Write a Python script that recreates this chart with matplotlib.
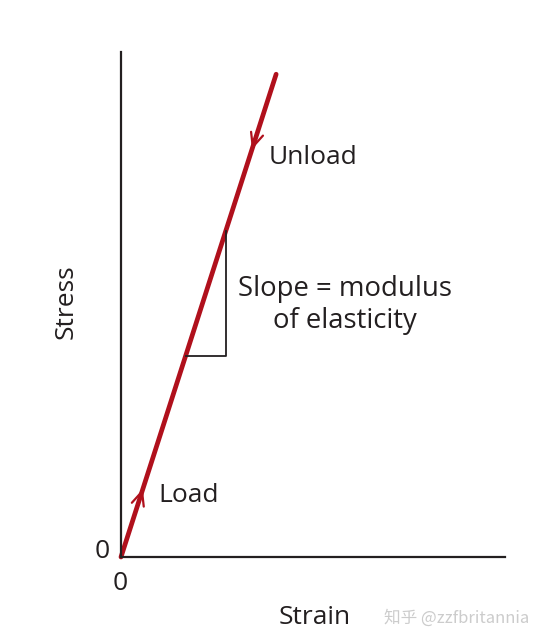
import matplotlib
matplotlib.use('Agg')
import matplotlib.pyplot as plt

# Line data (normalised strain / stress)
strain = [0.0, 0.404]
stress = [0.0, 0.956]
slope = stress[1] / strain[1]

# Slope triangle corners (strain)
tri_x = [0.168, 0.273]

# Arrow positions along the line (strain)
load_arrow_x = 0.057
unload_arrow_x = 0.341

RED = '#b0101c'
TXT = '#231f20'
FONT = ['Open Sans', 'DejaVu Sans']

W, H = 542, 643
fig = plt.figure(figsize=(W / 100, H / 100), dpi=100)
ax = fig.add_axes([121 / W, (H - 557) / H, (505 - 121) / W, (557 - 52) / H])
ax.set_xlim(0, 1)
ax.set_ylim(0, 1)
ax.set_xticks([])
ax.set_yticks([])
for s in ['top', 'right']:
    ax.spines[s].set_visible(False)
for s in ['left', 'bottom']:
    ax.spines[s].set_linewidth(1.6)
    ax.spines[s].set_color('#231f20')

ax.plot(strain, stress, color=RED, lw=3.4, solid_capstyle='round', clip_on=False)

# slope triangle
ax.plot([tri_x[0], tri_x[1], tri_x[1]],
        [tri_x[0] * slope, tri_x[0] * slope, tri_x[1] * slope],
        color=TXT, lw=1.3)

# chevron arrows on the line
def chevron(x0, direction):
    y0 = x0 * slope
    dx = 0.03 * direction
    ax.annotate('', xy=(x0, y0), xytext=(x0 - dx, y0 - dx * slope),
                arrowprops=dict(arrowstyle='->,head_length=1.0,head_width=0.45',
                                color=RED, lw=1.6, shrinkA=0, shrinkB=0))

chevron(load_arrow_x, 1)
chevron(unload_arrow_x, -1)

fs = 19
def px(x, y):
    return (x - 121) / 384, (557 - y) / 505

ax.text(*px(158, 495), 'Load', fontsize=fs, color=TXT,
        va='center', ha='left', family=FONT)
ax.text(*px(269, 158), 'Unload', fontsize=fs, color=TXT,
        va='center', ha='left', family=FONT)
ax.text(*px(345, 305), 'Slope = modulus\nof elasticity',
        fontsize=19.8, color=TXT, va='center', ha='center', linespacing=1.22, family=FONT)

fig.text(102 / W, 1 - 551 / H, '0', fontsize=fs, color=TXT, ha='center', va='center', family=FONT)
fig.text(120 / W, 1 - 583 / H, '0', fontsize=fs, color=TXT, ha='center', va='center', family=FONT)
fig.text(315 / W, 1 - 618 / H, 'Strain', fontsize=fs, color=TXT, ha='center', va='center', family=FONT)
fig.text(66 / W, 1 - 302 / H, 'Stress', fontsize=fs, color=TXT, ha='center', va='center',
         rotation=90, family=FONT)

# watermark
fig.text(457 / W, 1 - 618 / H, '知乎 @zzfbritannia', fontsize=12, color='#cccccc',
         ha='center', va='center', family=['Noto Sans CJK SC', 'DejaVu Sans'])

fig.savefig('out.png', dpi=100)
